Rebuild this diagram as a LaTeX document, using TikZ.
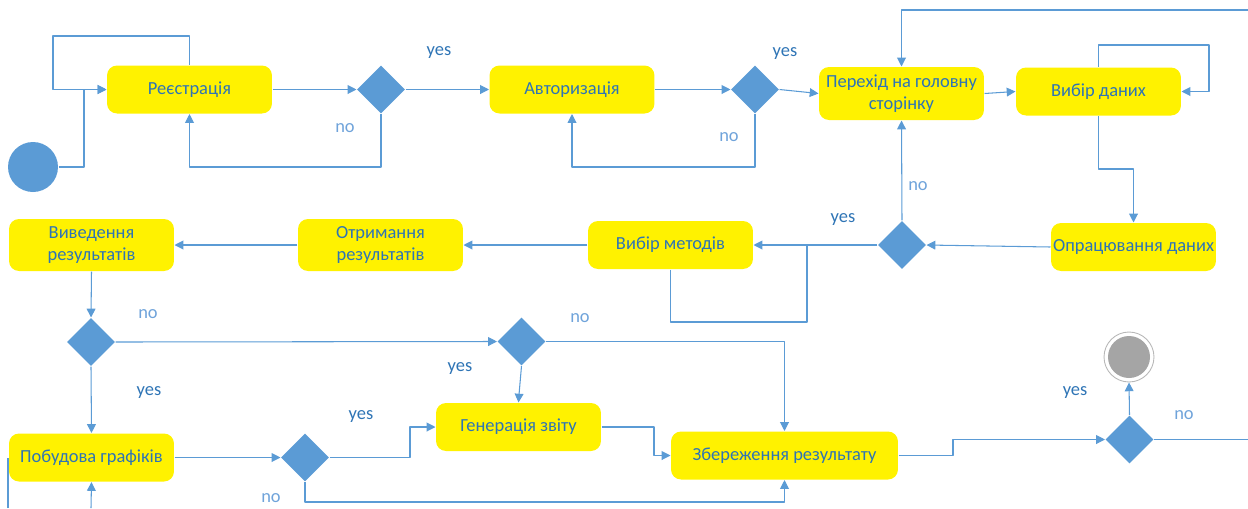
\documentclass[tikz,border=0pt]{standalone}
\usepackage{fontspec}
\setmainfont{Carlito}
\usetikzlibrary{shapes.geometric,arrows.meta}
\definecolor{flowline}{HTML}{5B9BD5}
\definecolor{boxtext}{HTML}{2E74B5}
\definecolor{notext}{HTML}{6FA3DA}
\definecolor{endgray}{HTML}{A5A5A5}
\tikzset{
  state/.style={draw=none, fill=yellow, rounded corners=0.2cm, text=boxtext, align=center,
    minimum width=3.3cm, minimum height=0.96cm, inner sep=1pt},
  choice/.style={diamond, aspect=1, fill=flowline, draw=none, minimum size=0.96cm, inner sep=0pt},
  yeslbl/.style={text=boxtext},
  nolbl/.style={text=notext}
}
\begin{document}
\begin{tikzpicture}[x=0.02cm, y=-0.02cm, font=\fontsize{10.5}{12.5}\selectfont, line join=round,
  >={Triangle[length=5pt,width=5pt]}, color=flowline, line width=0.6pt]
\useasboundingbox (0,0) rectangle (1248,508);
% start / end
\node[circle, fill=flowline, draw=none, minimum size=1cm, inner sep=0pt] (start) at (33,167) {};
\node[circle, draw=endgray!80, fill=white, line width=0.5pt, minimum size=1cm, inner sep=0pt] (stop) at (1129,357) {};
\fill[endgray] (stop.center) circle (21);
% states
\node[state] (reg) at (189.5,89.5) {Реєстрація};
\node[state] (auth) at (572,89.5) {Авторизація};
\node[state, minimum height=1.06cm] (main) at (901.5,93.5) {Перехід на головну\\сторінку};
\node[state] (data) at (1098.5,91.5) {Вибір даних};
\node[state] (proc) at (1133.5,247) {Опрацювання даних};
\node[state] (meth) at (670.5,245) {Вибір методів};
\node[state, minimum height=1.04cm] (res) at (380.5,245) {Отримання\\результатів};
\node[state, minimum height=1.04cm] (outp) at (91.5,245) {Виведення\\результатів};
\node[state] (plot) at (91.5,457.5) {Побудова графіків};
\node[state] (gen) at (518.5,427) {Генерація звіту};
\node[state, minimum width=4.54cm] (save) at (784.5,455.5) {Збереження результату};
% decisions
\node[choice] (d1) at (381,89.5) {};
\node[choice] (d2) at (755,89.5) {};
\node[choice] (d3) at (902,245) {};
\node[choice] (d4) at (91,342) {};
\node[choice] (d5) at (521.5,341.5) {};
\node[choice] (d6) at (1129.5,439.5) {};
\node[choice] (d7) at (305,457.5) {};
% free ends
\coordinate (topin) at (1248,10);
\coordinate (rightout) at (1248,439.5);
\coordinate (botin) at (91,508);
\coordinate (botleft) at (8,508);
% connectors
\draw[->] (start.east) -- (84,167) |- (reg.west);
\draw[->] (reg.north) -- (189.5,36) -| (53,89.5) -- (reg.west);
\draw[->] (reg.east) -- (d1.west);
\draw[->] (d1.south) -- (381,167) -| (reg.south);
\draw[->] (d1.east) -- (auth.west);
\draw[->] (auth.east) -- (d2.west);
\draw[->] (d2.south) -- (755,167) -| (auth.south);
\draw[->] (d2.east) -- (main.west);
\draw[->] (main.east) -- (data.west);
\draw[->] (data.north) -- (1098.5,45) -| (1209,91.5) -- (data.east);
\draw[->] (data.south) -- (1098.5,169) -| (proc.north);
\draw[->] (topin) -| (main.north);
\draw[->] (proc.west) -- (d3.east);
\draw[->] (d3.north) -- (main.south);
\draw[->] (d3.west) -- (meth.east);
\draw (meth.south) -- (670.5,322) -| (807,245);
\draw[->] (meth.west) -- (res.east);
\draw[->] (res.west) -- (outp.east);
\draw[->] (outp.south) -- (d4.north);
\draw[->] (d4.east) -- (d5.west);
\draw[->] (d5.east) -| (save.north);
\draw[->] (d5.south) .. controls (520,380) .. (gen.north);
\draw[->] (gen.east) -- (654,427) |- (save.west);
\draw[->] (save.east) -- (953,455.5) |- (d6.west);
\draw[->] (d6.north) -- (stop.south);
\draw (d6.east) -- (rightout);
\draw[->] (d4.south) -- (plot.north);
\draw[->] (plot.east) -- (d7.west);
\draw[->] (d7.east) -- (410,457.5) |- (gen.west);
\draw[->] (d7.south) -- (305,502) -| (save.south);
\draw[->] (botin) -- (plot.south);
\draw (botleft) -- (8,457.5);
% labels
\node[yeslbl] (y1) at (439,53) {yes};
\node[yeslbl] (y2) at (785,54) {yes};
\node[yeslbl] (y3) at (843,220) {yes};
\node[yeslbl] (y4) at (460,369) {yes};
\node[yeslbl] (y5) at (149,393) {yes};
\node[yeslbl] (y6) at (361,417) {yes};
\node[yeslbl] (y7) at (1075,393) {yes};
\node[nolbl] (n1) at (345,128) {no};
\node[nolbl] (n2) at (729,137) {no};
\node[nolbl] (n3) at (918,186) {no};
\node[nolbl] (n4) at (148,314) {no};
\node[nolbl] (n5) at (580,318) {no};
\node[nolbl] (n6) at (1184,415) {no};
\node[nolbl] (n7) at (271,498) {no};
\end{tikzpicture}
\end{document}
